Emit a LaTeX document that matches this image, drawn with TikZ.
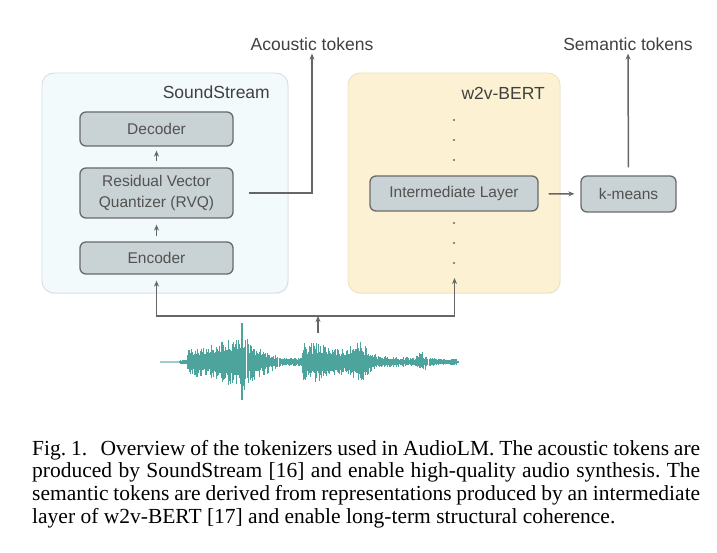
\documentclass[tikz,border=0pt]{standalone}
\usepackage{fontspec}
\setmainfont{Liberation Serif}
\newfontfamily\diagfont{Liberation Sans}
\usetikzlibrary{arrows.meta,shadows}
\definecolor{boxfill}{HTML}{C9D2D5}
\definecolor{boxline}{HTML}{6A6A6A}
\definecolor{txtgray}{HTML}{525252}
\definecolor{lblgray}{HTML}{404040}
\definecolor{ssfill}{HTML}{F3FAFB}
\definecolor{ssline}{HTML}{D9DEE0}
\definecolor{wbfill}{HTML}{FCF2D3}
\definecolor{wbline}{HTML}{EEE2C0}
\definecolor{arrowgray}{HTML}{666666}
\definecolor{wavecol}{HTML}{4DA49D}
\begin{document}
\begin{tikzpicture}[x=1pt,y=-1pt,
  outerbox/.style={line width=0.9pt, rounded corners=12pt,
    drop shadow={shadow xshift=0.6pt, shadow yshift=-0.9pt, opacity=0.12}},
  layerbox/.style={draw=boxline, fill=boxfill, line width=1.3pt, rounded corners=6pt,
    font=\diagfont\fontsize{15.5}{21.5}\selectfont, text=txtgray, inner sep=0pt, align=center},
  lbl/.style={font=\diagfont\fontsize{17.5}{20}\selectfont, text=lblgray, inner sep=0pt},
  arr/.style={draw=arrowgray, line width=1.5pt, -{Stealth[length=6pt,width=5pt]}},
  wavebody/.style={draw=wavecol, line width=1.3pt},
  wavespike/.style={draw=wavecol, line width=0.9pt}]
\useasboundingbox (0,0) rectangle (717,553);

% outer containers
\node[outerbox, draw=ssline, fill=ssfill, minimum width=246pt, minimum height=220pt] (ss) at (165,183) {};
\node[outerbox, draw=wbline, fill=wbfill, minimum width=212pt, minimum height=220pt] (wb) at (454,183) {};
\node[lbl, anchor=east] (sslbl) at (270,92) {SoundStream};
\node[lbl, anchor=east] (wblbl) at (545,93) {w2v-BERT};

% layers
\node[layerbox, minimum width=153pt, minimum height=34pt] (dec) at (156.5,129) {Decoder};
\node[layerbox, minimum width=153pt, minimum height=50pt] (rvq) at (156.5,193) {Residual Vector\\Quantizer (RVQ)};
\node[layerbox, minimum width=153pt, minimum height=32pt] (enc) at (156.5,258) {Encoder};
\node[layerbox, minimum width=168pt, minimum height=35pt] (inter) at (454,193.5) {Intermediate Layer};
\node[layerbox, minimum width=95pt, minimum height=36pt] (km) at (628.5,194) {k-means};

% output labels
\node[lbl] (acoustic) at (312,44) {Acoustic tokens};
\node[lbl] (semantic) at (628,44) {Semantic tokens};

% dots
\foreach \yy in {120,140,160,223,243,263} \fill[arrowgray] (454,\yy) circle (1.1pt);

% arrows
\draw[arr, shorten <=6pt, shorten >=4pt] (rvq) -- (dec);
\draw[arr, shorten <=5pt, shorten >=6pt] (enc) -- (rvq);
\draw[arr, shorten >=3pt] ([xshift=15pt]rvq.east) -| (acoustic.south);
\draw[arr, shorten <=10pt, shorten >=6pt] (inter) -- (km);
\draw[arr, shorten <=8pt, shorten >=3pt] (km) -- (semantic);

\coordinate (bus) at (318,316);
\coordinate (wavetop) at (318,333);
\coordinate (wbin) at (454.5,278);
\draw[arr, shorten >=6pt] (bus) -| (enc.south);
\draw[arr] (bus) -| (wbin);
\draw[arr] (wavetop) -- (bus);

% waveform: keypoints x / body half-height / spike half-height
\draw[wavecol!55, line width=1.4pt] (160,362) -- (182,362);
\pgfmathsetseed{5}
\foreach \xb/\bb/\sb [remember=\xb as \xa (initially 178), remember=\bb as \ba (initially 1.2), remember=\sb as \sa (initially 1.6)] in
  {186/2/2.5, 188/6.5/15, 200/7.5/15, 215/8.5/18, 232/12/26, 243/13/30, 250/10/21, 262/6.5/15,
   275/3.5/8, 282/2.5/4, 298/2.5/5, 301/3.5/6, 303/10/22, 318/10/20, 332/7.5/14, 345/7/13, 360/11/22,
   370/6/12, 378/3/6, 400/2.5/5, 415/2.5/5, 419/5/13, 425/3.5/9, 432/2.5/4, 448/1.6/2.5,
   453/2.5/3.5, 456/2.5/3, 458/1/1} {
  \pgfmathtruncatemacro\nn{max(1,(\xb-\xa)/1.2)}
  \foreach \k in {1,...,\nn} {
    \pgfmathsetmacro\tv{\k/\nn}
    \pgfmathsetmacro\xx{\xa+\tv*(\xb-\xa)}
    \pgfmathsetmacro\bv{\ba+\tv*(\bb-\ba)}
    \pgfmathsetmacro\sv{\sa+\tv*(\sb-\sa)}
    \pgfmathsetmacro\bup{\bv*(0.8+0.35*rnd)}
    \pgfmathsetmacro\bdn{\bv*(0.8+0.35*rnd)}
    \pgfmathsetmacro\wup{\bv+(\sv-\bv)*rnd^1.2}
    \pgfmathsetmacro\wdn{\bv+(\sv-\bv)*rnd^1.2}
    \draw[wavebody] (\xx,362-\bup) -- (\xx,362+\bdn);
    \draw[wavespike] (\xx,362-\wup) -- (\xx,362+\wdn);
  }
}
\draw[wavespike, line width=1.2pt] (242,323) -- (242,400);

% caption
\node[anchor=base west, inner sep=0pt, text width=668pt, align=justify,
  font=\fontsize{21.5}{22.8}\selectfont\frenchspacing] (cap) at (32,455)
  {Fig.~1.\hspace{0.4em} Overview of the tokenizers used in AudioLM. The acoustic tokens are\linebreak
   produced by SoundStream [16] and enable high-quality audio synthesis. The\linebreak
   semantic tokens are derived from representations produced by an intermediate\linebreak
   layer of w2v-BERT [17] and enable long-term structural coherence.};
\end{tikzpicture}
\end{document}
